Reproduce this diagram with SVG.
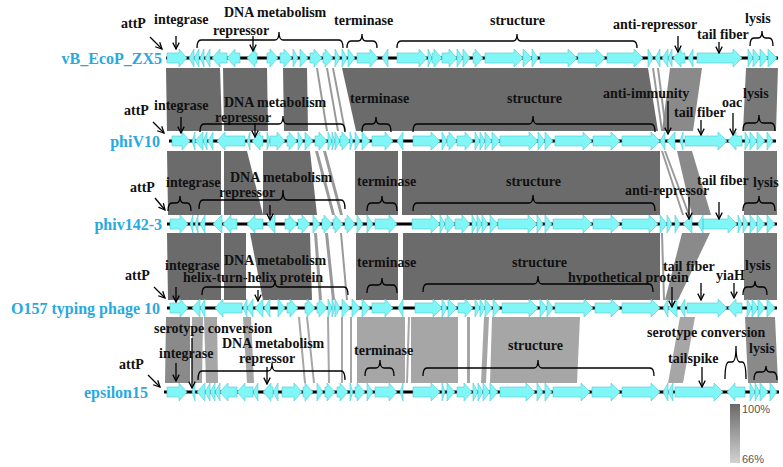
<svg xmlns="http://www.w3.org/2000/svg" width="783" height="467" viewBox="0 0 783 467">
<style>
.g{fill:#80f6f6;stroke:#4fcbd6;stroke-width:0.6}
.trk{stroke:#000;stroke-width:3}
.t{font-family:"Liberation Serif","Times New Roman",serif;font-weight:bold;font-size:14px;fill:#111}
.gn{font-family:"Liberation Serif","Times New Roman",serif;font-weight:bold;font-size:16px;fill:#29a9e1;text-anchor:end}
.ar{stroke:#000;stroke-width:1.3;fill:none;marker-end:url(#ah)}
.br{stroke:#000;stroke-width:1.3;fill:none}
.b1{fill:#6b6b6b}.b2{fill:#8a8a8a}.b3{fill:#a6a6a6}.b4{fill:#999}.b5{fill:#787878}
.lg{font-family:"Liberation Sans",Arial,sans-serif;font-size:11px;fill:#555}
</style>
<defs>
<marker id="ah" viewBox="0 0 10 10" refX="9" refY="5" markerWidth="8" markerHeight="8" markerUnits="userSpaceOnUse" orient="auto"><path d="M1,1 L9,5 L1,9" fill="none" stroke="#000" stroke-width="1.6"/></marker>
<linearGradient id="lgr" x1="0" y1="0" x2="0" y2="1"><stop offset="0" stop-color="#6a6a6a"/><stop offset="1" stop-color="#d2d2d2"/></linearGradient>
</defs>
<rect width="783" height="467" fill="#fff"/>
<g id="connectors">
<!-- band 1 -->
<polygon class="b1" points="166,68 220,68 222,131 167,131"/>
<polygon class="b1" points="223,68 267,68 268,131 224,131"/>
<polygon class="b1" points="283,68 307,68 308,131 284,131"/>
<polygon class="b4" points="316,68 318,68 328,131 326,131"/>
<polygon class="b4" points="326,68 328,68 339,131 337,131"/>
<polygon class="b4" points="332,68 334,68 346,131 344,131"/>
<polygon class="b1" points="342,68 648,68 658,131 356,131"/>
<polygon class="b4" points="652,68 654,68 663,131 661,131"/>
<polygon class="b4" points="657,68 659,68 667,131 665,131"/>
<polygon class="b2" points="670,68 702,68 693,131 662,131"/>
<polygon class="b5" points="746,68 778,68 776,131 743,131"/>
<!-- band 2 -->
<polygon class="b1" points="167,151 221,151 221,215 168,215"/>
<polygon class="b1" points="224,151 247,151 263,215 224,215"/>
<polygon class="b1" points="263,151 310,151 317,215 263,215"/>
<polygon class="b4" points="315,151 318,151 335,215 332,215"/>
<polygon class="b4" points="323,151 326,151 343,215 340,215"/>
<polygon class="b1" points="355,151 398,151 398,215 355,215"/>
<polygon class="b1" points="402,151 660,151 660,215 402,215"/>
<polygon class="b4" points="661,151 663,151 684,215 682,215"/>
<polygon class="b4" points="664,151 666,151 690,215 688,215"/>
<polygon class="b2" points="677,151 692,151 711,215 692,215"/>
<polygon class="b5" points="744,151 777,151 777,215 744,215"/>
<!-- band 3 -->
<polygon class="b1" points="167,233 221,233 221,300 168,300"/>
<polygon class="b1" points="224,233 246,233 246,300 224,300"/>
<polygon class="b1" points="250,233 310,233 312,300 263,300"/>
<polygon class="b4" points="314,233 317,233 322,300 319,300"/>
<polygon class="b4" points="325,233 328,233 335,300 332,300"/>
<polygon class="b4" points="340,233 342,233 348,300 346,300"/>
<polygon class="b1" points="356,233 398,233 398,300 356,300"/>
<polygon class="b1" points="403,233 660,233 660,300 403,300"/>
<polygon class="b4" points="661,233 663,233 665,300 663,300"/>
<polygon class="b2" points="682,233 710,233 678,300 665,300"/>
<polygon class="b5" points="744,233 777,233 777,300 744,300"/>
<!-- band 4 -->
<polygon class="b2" points="166,317 190,317 190,383 165,383"/>
<polygon class="b3" points="192,317 203,317 202,383 192,383"/>
<polygon class="b3" points="204,317 217,317 218,383 206,383"/>
<polygon class="b3" points="243,317 251,317 254,383 247,383"/>
<polygon class="b3" points="298,317 300,317 306,383 304,383"/>
<polygon class="b3" points="306,317 308,317 315,383 313,383"/>
<polygon class="b3" points="327,317 329,317 330,383 328,383"/>
<polygon class="b3" points="341,317 343,317 343,383 341,383"/>
<polygon class="b3" points="350,317 352,317 352,383 350,383"/>
<polygon class="b3" points="357,317 405,317 405,383 357,383"/>
<polygon class="b3" points="408,317 410,317 408,383 406,383"/>
<polygon class="b3" points="411,317 458,317 458,383 411,383"/>
<polygon class="b3" points="467,317 470,317 470,383 467,383"/>
<polygon class="b3" points="484,317 489,317 486,383 481,383"/>
<polygon class="b3" points="492,317 580,317 577,383 490,383"/>
<polygon class="b3" points="680,317 695,317 683,383 668,383"/>
<polygon class="b2" points="745,317 775,317 778,383 748,383"/>
</g>

<g id="vB_EcoP_ZX5" transform="translate(0,58)">
<line class="trk" x1="166" y1="0" x2="778" y2="0"/>
<path class="g" d="M167,-5h12v-4l8,9l-8,9v-4h-12z M194,-9l-5,9l5,9z M199,-9l-5,9l5,9z M204,-9l-4,9l4,9z M210,-9l-5,9l5,9z M227,-5h-7v-4l-8,9l8,9v-4h7z M240,-5h-5v-4l-8,9l8,9v-4h5z M257,-5h-2v-4l-8,9l8,9v-4h2z M267,-5h3v-4l8,9l-8,9v-4h-3z M280,-5h4v-4l8,9l-8,9v-4h-4z M293,-9l5,9l-5,9z M300,-9l8,9l-8,9z M310,-5h4v-4l8,9l-8,9v-4h-4z M323,-5h2v-4l8,9l-8,9v-4h-2z M335,-9l5,9l-5,9z M342,-9l5,9l-5,9z M348,-9l7,9l-7,9z M357,-5h13v-4l8,9l-8,9v-4h-13z M388,-9l-6,9l6,9z M397,-5h22v-4l8,9l-8,9v-4h-22z M428,-9l4,9l-4,9z M432,-5h2v-4l8,9l-8,9v-4h-2z M442,-5h7v-4l8,9l-8,9v-4h-7z M457,-9l6,9l-6,9z M463,-9l7,9l-7,9z M473,-5h2v-4l8,9l-8,9v-4h-2z M485,-5h29v-4l9,9l-9,9v-4h-29z M523,-9l9,9l-9,9z M532,-9l6,9l-6,9z M540,-5h28v-4l9,9l-9,9v-4h-28z M578,-5h18v-4l9,9l-9,9v-4h-18z M607,-5h27v-4l9,9l-9,9v-4h-27z M648,-9l5,9l-5,9z M660,-9l-5,9l5,9z M668,-9l-6,9l6,9z M672,-9l-4,9l4,9z M685,-5h-4v-4l-8,9l8,9v-4h4z M693,-9l-5,9l5,9z M697,-5h36v-4l9,9l-9,9v-4h-36z M748,-9l5,9l-5,9z M753,-9l7,9l-7,9z M760,-9l8,9l-8,9z M768,-9l9,9l-9,9z"/>
<text class="gn" x="162" y="6">vB_EcoP_ZX5</text>
</g>

<g id="phiV10" transform="translate(0,141)">
<line class="trk" x1="169" y1="0" x2="776" y2="0"/>
<path class="g" d="M172,-5h10v-4l8,9l-8,9v-4h-10z M195,-9l-3,9l3,9z M203,-9l-8,9l8,9z M207,-9l-4,9l4,9z M213,-9l-5,9l5,9z M245,-5h-20v-4l-8,9l8,9v-4h20z M250,-9l-3,9l3,9z M263,-5h-3v-4l-8,9l8,9v-4h3z M267,-9l3,9l-3,9z M270,-5h7v-4l8,9l-8,9v-4h-7z M287,-5h2v-4l8,9l-8,9v-4h-2z M298,-9l5,9l-5,9z M305,-9l8,9l-8,9z M315,-5h4v-4l8,9l-8,9v-4h-4z M328,-9l4,9l-4,9z M332,-9l3,9l-3,9z M335,-9l5,9l-5,9z M340,-5h2v-4l8,9l-8,9v-4h-2z M350,-9l3,9l-3,9z M355,-9l5,9l-5,9z M362,-9l8,9l-8,9z M372,-5h13v-4l8,9l-8,9v-4h-13z M403,-9l-6,9l6,9z M413,-5h18v-4l9,9l-9,9v-4h-18z M442,-9l5,9l-5,9z M447,-5h2v-4l8,9l-8,9v-4h-2z M457,-5h8v-4l8,9l-8,9v-4h-8z M475,-9l5,9l-5,9z M480,-9l5,9l-5,9z M485,-9l7,9l-7,9z M492,-9l8,9l-8,9z M500,-5h29v-4l9,9l-9,9v-4h-29z M538,-9l7,9l-7,9z M545,-9l8,9l-8,9z M555,-5h28v-4l9,9l-9,9v-4h-28z M593,-5h18v-4l9,9l-9,9v-4h-18z M622,-5h29v-4l9,9l-9,9v-4h-29z M665,-9l-5,9l5,9z M675,-9l-8,9l8,9z M683,-9l-3,9l3,9z M685,-5h33v-4l9,9l-9,9v-4h-33z M742,-5h-6v-4l-8,9l8,9v-4h6z M745,-9l5,9l-5,9z M750,-9l7,9l-7,9z M757,-9l8,9l-8,9z M767,-9l6,9l-6,9z"/>
<text class="gn" x="160" y="6">phiV10</text>
</g>

<g id="phiv142-3" transform="translate(0,224)">
<line class="trk" x1="167" y1="0" x2="777" y2="0"/>
<path class="g" d="M170,-5h10v-4l8,9l-8,9v-4h-10z M193,-9l-3,9l3,9z M198,-9l-3,9l3,9z M205,-9l-5,9l5,9z M222,-9l-9,9l9,9z M237,-5h-6v-4l-8,9l8,9v-4h6z M263,-5h-8v-4l-8,9l8,9v-4h8z M275,-9l-8,9l8,9z M285,-5h4v-4l8,9l-8,9v-4h-4z M298,-5h4v-4l8,9l-8,9v-4h-4z M313,-9l7,9l-7,9z M322,-5h2v-4l8,9l-8,9v-4h-2z M333,-5h2v-4l8,9l-8,9v-4h-2z M345,-5h2v-4l8,9l-8,9v-4h-2z M357,-9l6,9l-6,9z M367,-9l6,9l-6,9z M375,-5h14v-4l8,9l-8,9v-4h-14z M412,-5h19v-4l9,9l-9,9v-4h-19z M440,-9l5,9l-5,9z M445,-5h2v-4l8,9l-8,9v-4h-2z M455,-5h7v-4l8,9l-8,9v-4h-7z M472,-9l5,9l-5,9z M477,-9l5,9l-5,9z M482,-9l6,9l-6,9z M490,-9l8,9l-8,9z M498,-5h30v-4l9,9l-9,9v-4h-30z M537,-9l6,9l-6,9z M545,-9l7,9l-7,9z M553,-5h30v-4l9,9l-9,9v-4h-30z M593,-5h18v-4l9,9l-9,9v-4h-18z M622,-5h27v-4l9,9l-9,9v-4h-27z M660,-9l7,9l-7,9z M667,-9l5,9l-5,9z M675,-9l5,9l-5,9z M692,-9l-9,9l9,9z M703,-9l-5,9l5,9z M703,-5h25v-4l9,9l-9,9v-4h-25z M738,-9l4,9l-4,9z M743,-9l5,9l-5,9z M750,-9l7,9l-7,9z M757,-9l8,9l-8,9z M767,-9l8,9l-8,9z"/>
<text class="gn" x="162" y="6">phiv142-3</text>
</g>

<g id="O157_typing_phage_10" transform="translate(0,308)">
<line class="trk" x1="167" y1="0" x2="777" y2="0"/>
<path class="g" d="M170,-5h10v-4l8,9l-8,9v-4h-10z M200,-9l-8,9l8,9z M205,-9l-5,9l5,9z M242,-5h-19v-4l-8,9l8,9v-4h19z M247,-9l-4,9l4,9z M253,-9l-6,9l6,9z M263,-9l-8,9l8,9z M270,-9l-6,9l6,9z M278,-9l7,9l-7,9z M287,-5h3v-4l8,9l-8,9v-4h-3z M305,-5h2v-4l8,9l-8,9v-4h-2z M317,-5h2v-4l8,9l-8,9v-4h-2z M328,-9l4,9l-4,9z M332,-9l3,9l-3,9z M335,-9l5,9l-5,9z M342,-9l8,9l-8,9z M352,-9l8,9l-8,9z M362,-9l8,9l-8,9z M372,-5h13v-4l8,9l-8,9v-4h-13z M403,-9l-5,9l5,9z M415,-5h18v-4l9,9l-9,9v-4h-18z M442,-9l5,9l-5,9z M448,-9l9,9l-9,9z M458,-5h7v-4l8,9l-8,9v-4h-7z M475,-9l5,9l-5,9z M480,-9l5,9l-5,9z M485,-9l7,9l-7,9z M493,-9l7,9l-7,9z M502,-5h27v-4l9,9l-9,9v-4h-27z M540,-9l7,9l-7,9z M547,-9l6,9l-6,9z M555,-5h29v-4l9,9l-9,9v-4h-29z M595,-5h16v-4l9,9l-9,9v-4h-16z M622,-5h29v-4l9,9l-9,9v-4h-29z M668,-9l-5,9l5,9z M677,-9l-9,9l9,9z M685,-9l-5,9l5,9z M687,-5h31v-4l9,9l-9,9v-4h-31z M742,-5h-6v-4l-8,9l8,9v-4h6z M747,-9l5,9l-5,9z M752,-9l6,9l-6,9z M758,-9l7,9l-7,9z M767,-9l8,9l-8,9z"/>
<text class="gn" x="160" y="6">O157 typing phage 10</text>
</g>

<g id="epsilon15" transform="translate(0,392)">
<line class="trk" x1="164" y1="0" x2="779" y2="0"/>
<path class="g" d="M167,-5h12v-4l8,9l-8,9v-4h-12z M195,-9l-3,9l3,9z M205,-9l-8,9l8,9z M210,-9l-5,9l5,9z M215,-9l-5,9l5,9z M220,-9l-5,9l5,9z M237,-5h-9v-4l-8,9l8,9v-4h9z M253,-5h-8v-4l-8,9l8,9v-4h8z M258,-9l-5,9l5,9z M273,-5h-2v-4l-8,9l8,9v-4h2z M278,-9l-5,9l5,9z M282,-5h12v-4l8,9l-8,9v-4h-12z M303,-5h2v-4l8,9l-8,9v-4h-2z M317,-9l6,9l-6,9z M325,-5h2v-4l8,9l-8,9v-4h-2z M337,-5h3v-4l8,9l-8,9v-4h-3z M350,-9l3,9l-3,9z M355,-5h2v-4l8,9l-8,9v-4h-2z M367,-9l6,9l-6,9z M375,-5h14v-4l8,9l-8,9v-4h-14z M403,-9l-3,9l3,9z M413,-5h18v-4l9,9l-9,9v-4h-18z M442,-9l3,9l-3,9z M447,-9l8,9l-8,9z M457,-5h7v-4l8,9l-8,9v-4h-7z M473,-9l5,9l-5,9z M478,-9l5,9l-5,9z M483,-9l7,9l-7,9z M490,-9l8,9l-8,9z M500,-5h26v-4l9,9l-9,9v-4h-26z M537,-9l6,9l-6,9z M545,-9l7,9l-7,9z M553,-5h28v-4l9,9l-9,9v-4h-28z M592,-5h19v-4l9,9l-9,9v-4h-19z M622,-5h29v-4l9,9l-9,9v-4h-29z M668,-9l-5,9l5,9z M673,-9l-5,9l5,9z M675,-5h39v-4l9,9l-9,9v-4h-39z M745,-5h-10v-4l-8,9l8,9v-4h10z M750,-9l5,9l-5,9z M755,-9l5,9l-5,9z M760,-9l8,9l-8,9z M770,-9l7,9l-7,9z"/>
<text class="gn" x="148" y="6">epsilon15</text>
</g>

<g id="annotations">
<!-- row 1 -->
<text class="t" x="121" y="28">attP</text>
<line class="ar" x1="150" y1="37" x2="162" y2="49"/>
<text class="t" x="154" y="24">integrase</text>
<line class="ar" x1="176" y1="36" x2="176" y2="49"/>
<text class="t" x="224" y="17">DNA metabolism</text>
<text class="t" x="213" y="35">repressor</text>
<line class="ar" x1="253" y1="36" x2="253" y2="51"/>
<path class="br" d="M197,48Q197,40 201,40L275,40Q279,40 279,32Q279,40 283,40L339,40Q343,40 343,48"/>
<text class="t" x="334" y="25">terminase</text>
<path class="br" d="M347,48Q347,41 351,41L358,41Q362,41 362,34Q362,41 366,41L373,41Q377,41 377,48"/>
<text class="t" x="490" y="25">structure</text>
<path class="br" d="M397,48Q397,41 401,41L513,41Q517,41 517,34Q517,41 521,41L633,41Q637,41 637,48"/>
<text class="t" x="613" y="29">anti-repressor</text>
<line class="ar" x1="678" y1="36" x2="678" y2="52"/>
<text class="t" x="697" y="39">tail fiber</text>
<line class="ar" x1="719" y1="42" x2="719" y2="53"/>
<text class="t" x="745" y="23">lysis</text>
<path class="br" d="M750,46Q750,38 754,38L758,38Q762,38 762,31Q762,38 766,38L769,38Q773,38 773,46"/>
<!-- row 2 -->
<text class="t" x="124" y="115">attP</text>
<line class="ar" x1="153" y1="122" x2="164" y2="133"/>
<text class="t" x="154" y="110">integrase</text>
<line class="ar" x1="181" y1="117" x2="181" y2="133"/>
<text class="t" x="224" y="107">DNA metabolism</text>
<text class="t" x="215" y="122">repressor</text>
<line class="ar" x1="255" y1="123" x2="255" y2="137"/>
<path class="br" d="M200,132Q200,124 204,124L279,124Q283,124 283,116Q283,124 287,124L341,124Q345,124 345,132"/>
<text class="t" x="350" y="103">terminase</text>
<path class="br" d="M362,132Q362,124 366,124L372,124Q376,124 376,117Q376,124 380,124L387,124Q391,124 391,132"/>
<text class="t" x="507" y="103">structure</text>
<path class="br" d="M413,132Q413,124 417,124L529,124Q533,124 533,116Q533,124 537,124L651,124Q655,124 655,132"/>
<text class="t" x="603" y="98">anti-immunity</text>
<line class="ar" x1="668" y1="101" x2="668" y2="134"/>
<text class="t" x="674" y="117">tail fiber</text>
<line class="ar" x1="701" y1="120" x2="701" y2="135"/>
<text class="t" x="722" y="107">oac</text>
<line class="ar" x1="733" y1="113" x2="733" y2="135"/>
<text class="t" x="743" y="98">lysis</text>
<path class="br" d="M743,131Q743,123 747,123L755,123Q759,123 759,115Q759,123 763,123L771,123Q775,123 775,131"/>
<!-- row 3 -->
<text class="t" x="130" y="192">attP</text>
<line class="ar" x1="155" y1="198" x2="165" y2="210"/>
<text class="t" x="166" y="187">integrase</text>
<path class="br" d="M168,211Q168,203 172,203L176,203Q180,203 180,196Q180,203 184,203L187,203Q191,203 191,211"/>
<text class="t" x="230" y="182">DNA metabolism</text>
<text class="t" x="219" y="197">repressor</text>
<line class="ar" x1="270" y1="205" x2="270" y2="220"/>
<path class="br" d="M199,209Q199,200 203,200L279,200Q283,200 283,190Q283,200 287,200L341,200Q345,200 345,209"/>
<text class="t" x="357" y="186">terminase</text>
<path class="br" d="M367,211Q367,203 371,203L378,203Q382,203 382,196Q382,203 386,203L393,203Q397,203 397,211"/>
<text class="t" x="506" y="186">structure</text>
<path class="br" d="M413,211Q413,203 417,203L529,203Q533,203 533,195Q533,203 537,203L651,203Q655,203 655,211"/>
<text class="t" x="625" y="195">anti-repressor</text>
<line class="ar" x1="689" y1="197" x2="689" y2="219"/>
<text class="t" x="697" y="185">tail fiber</text>
<line class="ar" x1="719" y1="202" x2="719" y2="219"/>
<text class="t" x="753" y="187">lysis</text>
<path class="br" d="M743,211Q743,203 747,203L755,203Q759,203 759,196Q759,203 763,203L771,203Q775,203 775,211"/>
<!-- row 4 -->
<text class="t" x="125" y="280">attP</text>
<line class="ar" x1="154" y1="287" x2="165" y2="298"/>
<text class="t" x="165" y="270">integrase</text>
<line class="ar" x1="176" y1="287" x2="176" y2="302"/>
<text class="t" x="224" y="265">DNA metabolism</text>
<path class="br" d="M202,295Q202,287 206,287L271,287Q275,287 275,280Q275,287 279,287L344,287Q348,287 348,295"/>
<text class="t" x="183" y="282">helix-turn-helix protein</text>
<line class="ar" x1="258" y1="290" x2="258" y2="301"/>
<text class="t" x="357" y="267">terminase</text>
<path class="br" d="M367,293Q367,285 371,285L378,285Q382,285 382,278Q382,285 386,285L393,285Q397,285 397,293"/>
<text class="t" x="512" y="267">structure</text>
<path class="br" d="M423,292Q423,284 427,284L534,284Q538,284 538,276Q538,284 542,284L649,284Q653,284 653,292"/>
<text class="t" x="568" y="282">hypothetical protein</text>
<line class="ar" x1="672" y1="287" x2="672" y2="307"/>
<text class="t" x="663" y="271">tail fiber</text>
<line class="ar" x1="701" y1="283" x2="701" y2="300"/>
<text class="t" x="716" y="280">yiaH</text>
<line class="ar" x1="734" y1="283" x2="734" y2="298"/>
<text class="t" x="745" y="270">lysis</text>
<path class="br" d="M743,295Q743,287 747,287L751,287Q755,287 755,281Q755,287 759,287L763,287Q767,287 767,295"/>
<!-- row 5 -->
<text class="t" x="154" y="333">serotype conversion</text>
<line class="ar" x1="192" y1="338" x2="192" y2="388"/>
<text class="t" x="159" y="358">integrase</text>
<line class="ar" x1="176" y1="363" x2="176" y2="381"/>
<text class="t" x="119" y="369">attP</text>
<line class="ar" x1="148" y1="375" x2="160" y2="387"/>
<text class="t" x="222" y="348">DNA metabolism</text>
<text class="t" x="239" y="363">repressor</text>
<line class="ar" x1="267" y1="367" x2="267" y2="384"/>
<path class="br" d="M198,380Q198,371 202,371L268,371Q272,371 272,363Q272,371 276,371L341,371Q345,371 345,380"/>
<text class="t" x="354" y="355">terminase</text>
<path class="br" d="M365,376Q365,368 369,368L376,368Q380,368 380,360Q380,368 384,368L390,368Q394,368 394,376"/>
<text class="t" x="508" y="350">structure</text>
<path class="br" d="M423,376Q423,368 427,368L534,368Q538,368 538,360Q538,368 542,368L650,368Q654,368 654,376"/>
<text class="t" x="647" y="337">serotype conversion</text>
<text class="t" x="668" y="363">tailspike</text>
<line class="ar" x1="702" y1="367" x2="702" y2="387"/>
<path class="br" d="M725,379Q725,362 729,362L732,362Q736,362 736,346Q736,362 740,362L742,362Q746,362 746,379"/>
<text class="t" x="749" y="353">lysis</text>
<path class="br" d="M754,380Q754,372 758,372L762,372Q766,372 766,366Q766,372 770,372L773,372Q777,372 777,380"/>
</g>

<g id="legend">
<rect x="730" y="404" width="10" height="59" fill="url(#lgr)"/>
<text class="lg" x="742" y="413">100%</text>
<text class="lg" x="742" y="463">66%</text>
</g>
</svg>
